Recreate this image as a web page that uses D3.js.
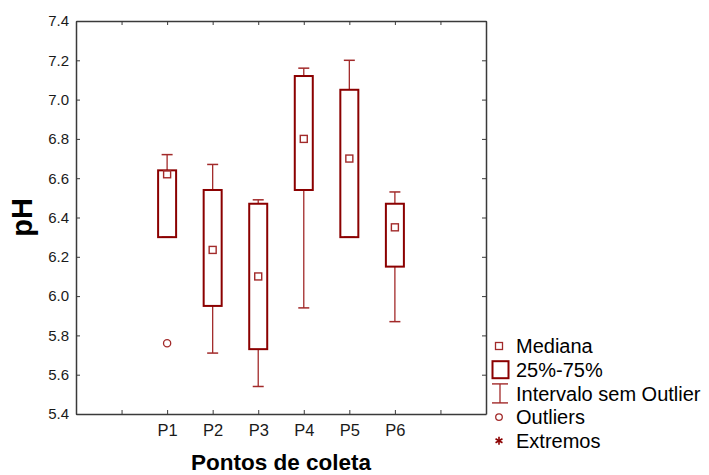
<!DOCTYPE html>
<html>
<head>
<meta charset="utf-8">
<script src="https://cdn.jsdelivr.net/npm/d3@7"></script>
<style>
  html, body { margin: 0; padding: 0; background: #fff; }
  svg { display: block; font-family: "Liberation Sans", Arial, sans-serif; }
</style>
</head>
<body>
<svg id="chart" width="709" height="475"></svg>
<script>
// pH por ponto de coleta: mediana, quartis, intervalo sem outlier e outliers
const categories   = ["P1", "P2", "P3", "P4", "P5", "P6"];
const medians      = [6.62, 6.235, 6.10, 6.80, 6.70, 6.35];
const q1           = [6.30, 5.95, 5.73, 6.54, 6.30, 6.15];
const q3           = [6.64, 6.54, 6.47, 7.12, 7.05, 6.47];
const whiskerLow   = [6.30, 5.71, 5.54, 5.94, 6.30, 5.87];
const whiskerHigh  = [6.72, 6.67, 6.49, 7.16, 7.20, 6.53];
const outlierCats  = ["P1"];
const outlierVals  = [5.76];
const yTicks       = [5.4, 5.6, 5.8, 6.0, 6.2, 6.4, 6.6, 6.8, 7.0, 7.2, 7.4];
const legendLabels = ["Mediana", "25%-75%", "Intervalo sem Outlier", "Outliers", "Extremos"];

const boxColor = "#8b0000";
const whiskColor = "#a22a2a";
const frameColor = "#3a3a3a";

const svg = d3.select("#chart");
const plot = { left: 76, top: 21, right: 486, bottom: 414 };

// nine slots along x; the six sampling points occupy slots 2..7
const slotOffset = 2;
const x = d3.scaleLinear().domain([0, 9]).range([plot.left, plot.right]);
const y = d3.scaleLinear().domain([5.4, 7.4]).range([plot.bottom, plot.top]);
const cx = i => x(i + slotOffset);

// axes with inward ticks on all four sides
const xAxis = d3.axisBottom(x)
  .tickValues(d3.range(0, 10))
  .tickFormat(v => categories[v - slotOffset] || "")
  .tickSizeInner(-4).tickSizeOuter(0).tickPadding(10);
const xTop = d3.axisTop(x).tickValues(d3.range(0, 10)).tickFormat("")
  .tickSizeInner(-4).tickSizeOuter(0);
const yAxis = d3.axisLeft(y).tickValues(yTicks).tickFormat(d3.format(".1f"))
  .tickSizeInner(-4).tickSizeOuter(0).tickPadding(7);
const yRight = d3.axisRight(y).tickValues(yTicks).tickFormat("")
  .tickSizeInner(-4).tickSizeOuter(0);

function styleAxis(g, size) {
  g.selectAll("path.domain").attr("stroke", frameColor).attr("stroke-width", 1.5);
  g.selectAll(".tick line").attr("stroke", frameColor).attr("stroke-width", 1);
  g.selectAll(".tick text").attr("fill", "#1a1a1a")
    .style("font-family", '"Liberation Sans", Arial, sans-serif')
    .style("font-size", size + "px");
}

svg.append("g").attr("transform", `translate(0,${plot.bottom})`).call(xAxis).call(g => styleAxis(g, 16.5));
svg.append("g").attr("transform", `translate(0,${plot.top})`).call(xTop).call(g => styleAxis(g, 13));
svg.append("g").attr("transform", `translate(${plot.left},0)`).call(yAxis).call(g => styleAxis(g, 15));
svg.append("g").attr("transform", `translate(${plot.right},0)`).call(yRight).call(g => styleAxis(g, 13));

// box plots
const boxW = 18, capW = 11, medSize = 7;
const marks = svg.append("g");
categories.forEach((c, i) => {
  const xc = cx(i);
  // whiskers
  marks.append("line").attr("x1", xc).attr("x2", xc)
    .attr("y1", y(q3[i])).attr("y2", y(whiskerHigh[i]))
    .attr("stroke", whiskColor).attr("stroke-width", 1.3);
  marks.append("line").attr("x1", xc - capW / 2).attr("x2", xc + capW / 2)
    .attr("y1", y(whiskerHigh[i])).attr("y2", y(whiskerHigh[i]))
    .attr("stroke", whiskColor).attr("stroke-width", 1.5);
  marks.append("line").attr("x1", xc).attr("x2", xc)
    .attr("y1", y(q1[i])).attr("y2", y(whiskerLow[i]))
    .attr("stroke", whiskColor).attr("stroke-width", 1.3);
  marks.append("line").attr("x1", xc - capW / 2).attr("x2", xc + capW / 2)
    .attr("y1", y(whiskerLow[i])).attr("y2", y(whiskerLow[i]))
    .attr("stroke", whiskColor).attr("stroke-width", 1.5);
  // box
  marks.append("rect")
    .attr("x", xc - boxW / 2).attr("y", y(q3[i]))
    .attr("width", boxW).attr("height", y(q1[i]) - y(q3[i]))
    .attr("fill", "none").attr("stroke", boxColor).attr("stroke-width", 2);
  // median
  marks.append("rect")
    .attr("x", xc - medSize / 2).attr("y", y(medians[i]) - medSize / 2)
    .attr("width", medSize).attr("height", medSize)
    .attr("fill", "none").attr("stroke", whiskColor).attr("stroke-width", 1.4);
});

// outliers
outlierCats.forEach((c, k) => {
  const i = categories.indexOf(c);
  marks.append("circle").attr("cx", cx(i)).attr("cy", y(outlierVals[k])).attr("r", 3.6)
    .attr("fill", "none").attr("stroke", whiskColor).attr("stroke-width", 1.3);
});

// axis titles
svg.append("text").attr("x", (plot.left + plot.right) / 2).attr("y", 469.5)
  .attr("text-anchor", "middle").attr("font-weight", "bold").attr("font-size", 22.5)
  .attr("fill", "#000").text("Pontos de coleta");
svg.append("text").attr("transform", `translate(32,${(plot.top + plot.bottom) / 2}) rotate(-90)`)
  .attr("text-anchor", "middle").attr("font-weight", "bold").attr("font-size", 29)
  .attr("fill", "#000").text("pH");

// legend
const legX = 499, legText = 516, legY0 = 346, legStep = 23.7;
const leg = svg.append("g");
legendLabels.forEach((t, k) => {
  leg.append("text").attr("x", legText).attr("y", legY0 + k * legStep).attr("dy", "0.36em")
    .attr("font-size", 20).attr("fill", "#000").text(t);
});
// Mediana
leg.append("rect").attr("x", legX - 3.5).attr("y", legY0 - 3.5).attr("width", 7).attr("height", 7)
  .attr("fill", "none").attr("stroke", whiskColor).attr("stroke-width", 1.3);
// 25%-75%
leg.append("rect").attr("x", legX + 1.5 - 8).attr("y", legY0 + legStep - 8.5).attr("width", 16).attr("height", 17)
  .attr("fill", "none").attr("stroke", boxColor).attr("stroke-width", 2);
// Intervalo sem Outlier
const iy = legY0 + 2 * legStep;
leg.append("line").attr("x1", legX + 1).attr("x2", legX + 1).attr("y1", iy - 9.5).attr("y2", iy + 9.5)
  .attr("stroke", whiskColor).attr("stroke-width", 1.3);
leg.append("line").attr("x1", legX + 1 - 8).attr("x2", legX + 1 + 8).attr("y1", iy - 9.5).attr("y2", iy - 9.5)
  .attr("stroke", whiskColor).attr("stroke-width", 1.4);
leg.append("line").attr("x1", legX + 1 - 8).attr("x2", legX + 1 + 8).attr("y1", iy + 9.5).attr("y2", iy + 9.5)
  .attr("stroke", whiskColor).attr("stroke-width", 1.4);
// Outliers
leg.append("circle").attr("cx", legX).attr("cy", legY0 + 3 * legStep).attr("r", 3.3)
  .attr("fill", "none").attr("stroke", whiskColor).attr("stroke-width", 1.3);
// Extremos (asterisk)
const ey = legY0 + 4 * legStep;
[0, 60, 120].forEach(a => {
  const r = 4, rad = a * Math.PI / 180;
  leg.append("line")
    .attr("x1", legX - r * Math.sin(rad)).attr("y1", ey - r * Math.cos(rad))
    .attr("x2", legX + r * Math.sin(rad)).attr("y2", ey + r * Math.cos(rad))
    .attr("stroke", boxColor).attr("stroke-width", 1.6);
});
</script>
</body>
</html>
